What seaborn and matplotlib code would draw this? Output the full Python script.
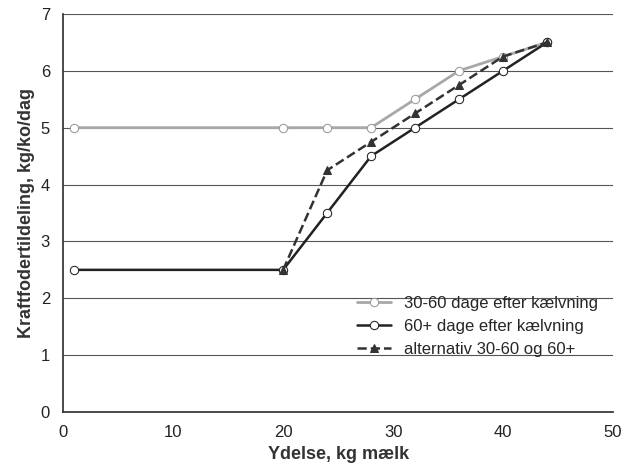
import matplotlib
matplotlib.use("Agg")
import matplotlib.pyplot as plt
import seaborn as sns
import pandas as pd

x_all = [1, 20, 24, 28, 32, 36, 40, 44]
y_3060 = [5, 5, 5, 5, 5.5, 6, 6.25, 6.5]
y_60 = [2.5, 2.5, 3.5, 4.5, 5, 5.5, 6, 6.5]
x_alt = [20, 24, 28, 32, 36, 40, 44]
y_alt = [2.5, 4.25, 4.75, 5.25, 5.75, 6.25, 6.5]

sns.set_theme(style="white")
plt.rcParams['font.family'] = ['Liberation Sans', 'DejaVu Sans']

fig, ax = plt.subplots(figsize=(6.32, 4.63), dpi=100)
ax.grid(axis='y', color='#555555', lw=0.8)
ax.set_axisbelow(True)

sns.lineplot(x=x_all, y=y_3060, ax=ax, color='#a8a8a8', lw=2, marker='o', ms=6,
             markerfacecolor='white', markeredgecolor='#999999', label='30-60 dage efter kælvning')
sns.lineplot(x=x_all, y=y_60, ax=ax, color='#222222', lw=1.8, marker='o', ms=6,
             markerfacecolor='white', markeredgecolor='#222222', label='60+ dage efter kælvning')
sns.lineplot(x=x_alt, y=y_alt, ax=ax, color='#333333', lw=1.8, ls='--', marker='^', ms=6,
             markeredgecolor='#333333', label='alternativ 30-60 og 60+')

ax.set_xlim(0, 50)
ax.set_ylim(0, 7)
ax.set_xticks(range(0, 51, 10))
ax.set_yticks(range(0, 8))
ax.tick_params(labelsize=12, colors='#222222')
for s in ['top', 'right']:
    ax.spines[s].set_visible(False)
for s in ['left', 'bottom']:
    ax.spines[s].set_color('#333333')
ax.set_xlabel('Ydelse, kg mælk', fontsize=13, fontweight='bold', color='#333333')
ax.set_ylabel('Kraftfodertildeling, kg/ko/dag', fontsize=13, fontweight='bold', color='#333333')
leg = ax.legend(loc='lower right', bbox_to_anchor=(1.0, 0.1), frameon=False, fontsize=12)
fig.subplots_adjust(left=0.1, right=0.97, top=0.97, bottom=0.11)
fig.savefig('out.png')
